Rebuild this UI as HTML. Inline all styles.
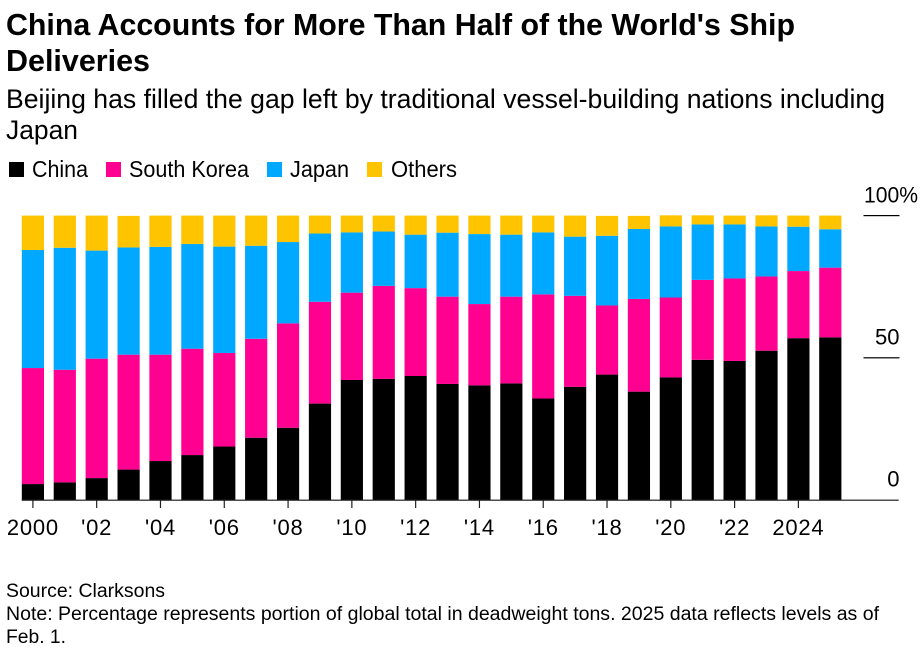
<!DOCTYPE html>
<html lang="en">
<head>
<meta charset="utf-8">
<title>China Accounts for More Than Half of the World's Ship Deliveries</title>
<style>
html,body{margin:0;padding:0;background:#fff;}
svg{display:block;}
text{font-family:"Liberation Sans",Arial,sans-serif;fill:#000;}
.title{font-size:31px;font-weight:700;}
.sub{font-size:26.5px;}
.leg{font-size:23px;}
.foot{font-size:19px;}
.tick{font-size:22px;}
</style>
</head>
<body>
<svg id="chart" xmlns="http://www.w3.org/2000/svg" width="922" height="653" viewBox="0 0 922 653">
  <text class="title" x="6" y="35" textLength="789" lengthAdjust="spacingAndGlyphs">China Accounts for More Than Half of the World's Ship</text>
  <text class="title" x="6" y="71" textLength="144" lengthAdjust="spacingAndGlyphs">Deliveries</text>
  <text class="sub" x="6" y="108" textLength="879" lengthAdjust="spacingAndGlyphs">Beijing has filled the gap left by traditional vessel-building nations including</text>
  <text class="sub" x="6" y="139" textLength="72" lengthAdjust="spacingAndGlyphs">Japan</text>

  <g>
    <rect x="9" y="162" width="15" height="15" fill="#000000"/>
    <text class="leg" x="32" y="177" textLength="56" lengthAdjust="spacingAndGlyphs">China</text>
    <rect x="106" y="162" width="15" height="15" fill="#ff0090"/>
    <text class="leg" x="129" y="177" textLength="120" lengthAdjust="spacingAndGlyphs">South Korea</text>
    <rect x="267" y="162" width="15" height="15" fill="#00a8ff"/>
    <text class="leg" x="290" y="177" textLength="59" lengthAdjust="spacingAndGlyphs">Japan</text>
    <rect x="367" y="162" width="15" height="15" fill="#ffc400"/>
    <text class="leg" x="391" y="177" textLength="66" lengthAdjust="spacingAndGlyphs">Others</text>
  </g>

  <g id="bars"></g>
  <g id="y-axis"></g>
  <g id="x-axis"></g>

  <text class="foot" x="6" y="597" textLength="159" lengthAdjust="spacingAndGlyphs">Source: Clarksons</text>
  <text class="foot" x="6" y="620" textLength="873" lengthAdjust="spacingAndGlyphs">Note: Percentage represents portion of global total in deadweight tons. 2025 data reflects levels as of</text>
  <text class="foot" x="6" y="643" textLength="60" lengthAdjust="spacingAndGlyphs">Feb. 1.</text>
</svg>
<script>
const years = [2000,2001,2002,2003,2004,2005,2006,2007,2008,2009,2010,2011,2012,2013,2014,2015,2016,2017,2018,2019,2020,2021,2022,2023,2024,2025];
const china = [5.6,6.2,7.7,10.7,13.7,15.8,18.8,21.9,25.4,33.9,42.2,42.6,43.6,40.8,40.3,41.0,35.7,39.8,44.1,38.1,43.1,49.3,48.9,52.5,56.9,57.2];
const southKorea = [40.8,39.6,42.0,40.4,37.4,37.4,32.9,34.8,36.7,35.8,30.7,32.7,30.9,30.7,28.6,30.5,36.6,32.0,24.3,32.6,28.1,28.1,29.0,26.1,23.6,24.5];
const japan = [41.5,42.9,38.0,37.7,37.9,36.8,37.4,32.7,28.6,24.0,21.2,19.1,18.8,22.5,24.6,21.8,21.8,20.8,24.5,24.6,25.0,19.5,19.0,17.6,15.6,13.5];
const others = [12.1,11.3,12.3,11.1,11.0,10.0,10.9,10.6,9.3,6.3,5.9,5.6,6.7,6.0,6.5,6.7,5.9,7.4,7.0,4.6,3.9,3.2,3.1,3.9,3.9,4.8];
const xTickYears = [2000,2002,2004,2006,2008,2010,2012,2014,2016,2018,2020,2022,2024];
const xTickLabels = ["2000","'02","'04","'06","'08","'10","'12","'14","'16","'18","'20","'22","2024"];
const yTicks = [0,50,100];
const yTickLabels = ["0","50","100%"];

const NS = 'http://www.w3.org/2000/svg';
const plotBottom = 500, plotTop = 215.6, firstCenter = 32.9, lastCenter = 830.3, barWidth = 22.2;
const xScale = function (year) {
  const a = years[0], b = years[years.length - 1];
  return firstCenter + (year - a) * (lastCenter - firstCenter) / (b - a);
};
const yScale = function (v) {
  return plotBottom - v * (plotBottom - plotTop) / 100;
};
const stack = [
  { name: 'china', values: china, color: '#000000' },
  { name: 'south-korea', values: southKorea, color: '#ff0090' },
  { name: 'japan', values: japan, color: '#00a8ff' },
  { name: 'others', values: others, color: '#ffc400' }
];

const barsG = document.getElementById('bars');
years.forEach(function (year, i) {
  let base = 0;
  stack.forEach(function (s) {
    const v = s.values[i];
    const r = document.createElementNS(NS, 'rect');
    r.setAttribute('x', (xScale(year) - barWidth / 2).toFixed(2));
    r.setAttribute('y', yScale(base + v).toFixed(2));
    r.setAttribute('width', barWidth);
    r.setAttribute('height', (yScale(base) - yScale(base + v)).toFixed(2));
    r.setAttribute('fill', s.color);
    
    
    barsG.appendChild(r);
    base += v;
  });
});

const yG = document.getElementById('y-axis');
yTicks.forEach(function (t, i) {
  if (t !== 0) {
    const l = document.createElementNS(NS, 'rect');
    l.setAttribute('x', 863.5);
    l.setAttribute('y', (yScale(t) - 0.6).toFixed(2));
    l.setAttribute('width', 36);
    l.setAttribute('height', 1.2);
    l.setAttribute('fill', '#000');
    
    
    yG.appendChild(l);
  }
  const tx = document.createElementNS(NS, 'text');
  tx.setAttribute('class', 'tick');
  tx.setAttribute('y', (yScale(t) - 13.3).toFixed(2));
  if (t === 100) {
    tx.setAttribute('x', 864);
    tx.setAttribute('text-anchor', 'start');
    tx.setAttribute('textLength', '54');
    tx.setAttribute('lengthAdjust', 'spacingAndGlyphs');
  } else {
    tx.setAttribute('x', 899.5);
    tx.setAttribute('text-anchor', 'end');
  }
  tx.textContent = yTickLabels[i];
  
  
  yG.appendChild(tx);
});

const xG = document.getElementById('x-axis');
const axisLine = document.createElementNS(NS, 'rect');
axisLine.setAttribute('x', 21.7);
axisLine.setAttribute('y', plotBottom - 0.4);
axisLine.setAttribute('width', 877);
axisLine.setAttribute('height', 1.2);
axisLine.setAttribute('fill', '#222');


xG.appendChild(axisLine);
xTickYears.forEach(function (year, i) {
  const x = xScale(year);
  const m = document.createElementNS(NS, 'rect');
  m.setAttribute('x', (x - 0.6).toFixed(2));
  m.setAttribute('y', plotBottom);
  m.setAttribute('width', 1.2);
  m.setAttribute('height', 8);
  m.setAttribute('fill', '#222');
  
  
  xG.appendChild(m);
  const tx = document.createElementNS(NS, 'text');
  tx.setAttribute('class', 'tick');
  tx.setAttribute('x', x.toFixed(2));
  tx.setAttribute('y', 535);
  tx.setAttribute('text-anchor', 'middle');
  tx.setAttribute('letter-spacing', '0.8');
  tx.textContent = xTickLabels[i];
  
  
  xG.appendChild(tx);
});
</script>
</body>
</html>
